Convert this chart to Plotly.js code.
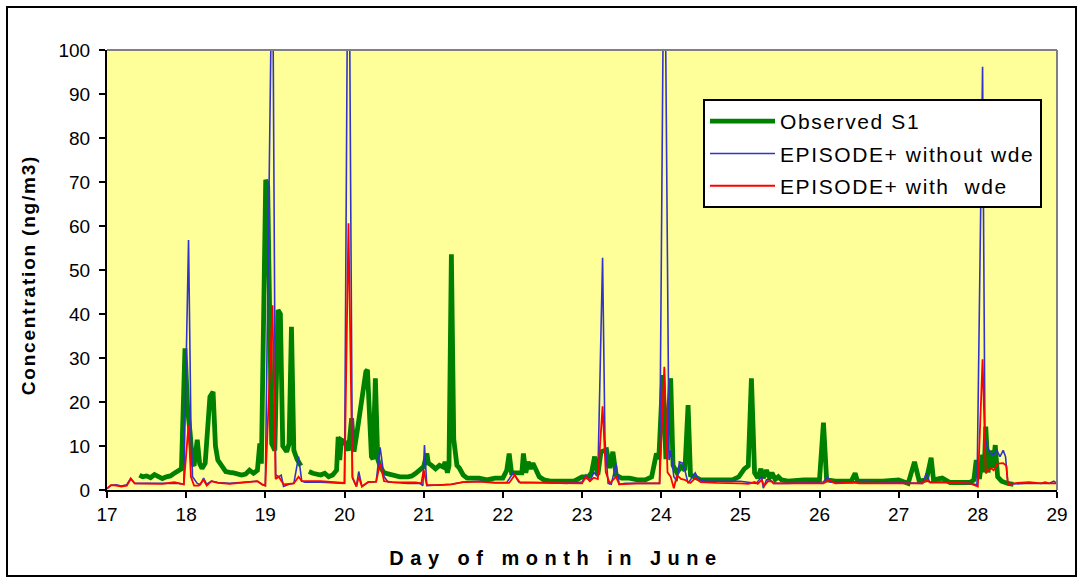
<!DOCTYPE html>
<html>
<head>
<meta charset="utf-8">
<script src="https://cdn.plot.ly/plotly-3.0.1.min.js"></script>
<style>
  html, body { margin: 0; padding: 0; background: #ffffff; }
  #chart { width: 1082px; height: 577px; }
  .g-xtitle text { letter-spacing: 6.5px; }
  .g-xtitle { transform: translate(-26px, 0px); }
  .g-ytitle text { letter-spacing: 1.8px; }
  .g-ytitle { transform: translate(0px, 5px); }
  .legendtext { letter-spacing: 1.6px; }
</style>
</head>
<body>
<div id="chart"></div>
<script>
// Day of month (June) and concentration (ng/m3) at the turning points of each series

// Observed S1 (null marks the gap in the record)
const obsDay = [17.41,17.45,17.5,17.55,17.6,17.65,17.7,17.75,17.8,17.85,17.9,17.94,17.985,18.02,18.05,18.08,18.1,18.14,18.17,18.2,18.24,18.3,18.34,18.37,18.4,18.45,18.5,18.55,18.6,18.7,18.75,18.8,18.85,18.9,18.93,18.95,18.98,19.005,19.03,19.06,19.08,19.12,19.16,19.19,19.22,19.27,19.3,19.33,19.36,19.4,19.45,19.5,
  19.55,19.6,19.7,19.75,19.8,19.85,19.9,19.92,19.94,19.96,20.0,20.05,20.09,20.12,20.16,20.22,20.24,20.27,20.29,20.34,20.36,20.39,20.42,20.45,20.5,20.6,20.7,20.8,20.85,20.9,20.95,21.0,21.04,21.06,21.1,21.15,21.2,21.25,21.27,21.3,21.32,21.35,21.38,21.42,21.45,21.5,21.55,21.7,21.8,21.9,22.0,22.05,22.08,22.11,22.2,22.24,22.26,22.29,22.32,22.35,22.38,22.42,22.46,22.52,22.6,22.8,22.9,23.0,23.08,23.12,23.16,23.2,23.24,23.31,23.35,23.39,23.43,23.5,23.6,23.7,23.8,23.88,23.94,23.97,24.02,24.06,24.12,24.15,24.2,24.25,24.3,24.34,24.37,24.42,24.5,24.7,24.9,24.98,25.05,25.1,25.14,25.18,25.22,25.26,25.29,25.33,25.37,25.4,25.44,25.48,25.52,25.6,25.8,26.0,26.05,26.09,26.2,26.4,26.45,26.48,26.6,26.8,27.0,27.12,27.2,27.26,27.35,27.41,27.44,27.55,27.65,27.8,27.9,27.95,27.98,28.02,28.06,28.08,28.1,28.13,28.16,28.19,28.22,28.25,28.3,28.38,28.45];
const obsConc = [3.4,3.0,3.2,2.8,3.5,2.9,2.6,3.0,3.2,3.8,4.5,4.8,32.2,18,13,6,5.5,11.4,6,4.9,6.1,21.2,22.3,10,6.8,5.5,4.2,4.0,3.9,3.4,3.6,4.5,3.8,4.5,10.6,6,49,70.5,69,30,10.6,9,40.9,40,10,8.7,10.5,37.1,9,7,5.5,null,
  4.2,3.8,3.4,3.8,3.0,3.4,4.5,12.1,6.8,11.4,11,9,16.3,8.7,13.3,21.2,22,26.9,27.3,7.6,7,25.4,7,5.3,3.9,3.4,3.0,3.0,3.2,3.8,4.5,5.3,8.3,6.1,5.6,4.8,5.6,5.2,6.4,3.9,5.5,53.6,11.5,5.6,5.0,3.4,2.7,2.7,2.3,2.7,2.7,4.5,8.3,3.9,3.9,3.9,8.3,3.9,6.4,4.8,6.1,4.8,3.0,2.3,2.0,2.0,2.0,3.0,3.0,3.9,7.6,3.4,8.7,9.1,5.0,8.7,3.4,2.7,2.7,2.3,2.3,3.0,8.3,7,26.1,7,25.4,5.6,3.9,5.3,4.5,19.3,3.4,3.0,2.3,2.3,2.3,3.0,4.8,5.5,25.4,3.9,2.7,4.8,2.7,4.5,2.7,3.9,2.4,3.0,2.3,2.0,2.3,2.3,15.3,2.3,2.0,2.0,3.8,2.0,2.0,2.0,2.3,1.5,6.4,2.0,2.3,7.3,2.3,2.7,1.7,1.7,1.7,2.3,6.8,2.5,8,4,14.4,4,9,5,10.2,3,2,1.5,1.3];

// EPISODE+ without wet deposition
const noWdeDay = [17.0,17.05,17.12,17.18,17.25,17.3,17.35,17.5,17.7,17.9,17.97,18.03,18.06,18.08,18.14,18.18,18.22,18.26,18.32,18.4,18.55,18.7,18.9,18.96,19.0,19.09,19.13,19.17,19.2,19.23,19.3,19.36,19.42,19.46,19.5,19.7,19.9,20.0,20.05,20.1,20.15,20.18,20.22,20.3,20.4,20.45,20.5,20.55,20.8,20.95,20.99,21.01,21.04,21.2,21.35,21.5,21.7,21.9,22.05,22.13,22.2,22.5,22.8,23.0,23.05,23.1,23.15,23.2,23.26,23.29,23.33,23.37,23.43,23.47,23.55,23.7,23.9,23.98,24.04,24.1,24.12,24.16,24.2,24.23,24.27,24.3,24.34,24.43,24.47,24.55,24.8,25.0,25.2,25.27,25.29,25.33,25.38,25.42,25.6,25.9,26.05,26.1,26.14,26.35,26.6,26.9,27.2,27.3,27.35,27.39,27.6,27.9,27.99,28.06,28.09,28.11,28.16,28.2,28.24,28.28,28.32,28.35,28.38,28.6,28.9,28.96,29.0];
const noWdeConc = [0.3,1.1,1.2,0.9,1.2,2.7,1.5,1.5,1.5,1.5,1.3,56.8,14.4,3,1.5,1.2,2.7,1.3,2.0,1.7,1.5,1.7,2.0,1.2,1.0,130,3.4,3.0,3.4,0.8,1.3,1.5,7.6,2.0,1.8,1.8,1.7,1.5,150,2.7,0.8,4.2,0.8,1.8,1.9,9.7,3.0,1.8,1.5,1.5,1.0,10.2,1.0,1.1,1.3,1.8,2.0,1.7,1.7,3.9,1.8,1.7,1.5,1.8,3.4,2.0,4.0,3,52.8,11.4,1.5,1.3,6.0,1.3,1.5,1.5,1.5,1.5,140,6.8,9,3.0,2,6.4,6.1,4.5,1.5,3.9,2.5,2.0,2.0,2.0,1.5,3.0,0.4,2.3,2.3,1.5,1.5,1.8,1.8,3.0,1.8,1.8,2.0,1.7,1.5,1.5,3.8,1.8,1.8,1.5,1.2,96.2,12,10.2,8.3,8.0,9.0,7.6,9.0,7.6,1.3,1.5,1.5,2.0,1.5];

// EPISODE+ with wet deposition
const wdeDay = [17.0,17.05,17.12,17.18,17.25,17.3,17.35,17.5,17.7,17.85,17.97,18.03,18.06,18.1,18.16,18.22,18.26,18.32,18.4,18.55,18.7,18.9,18.96,19.0,19.09,19.13,19.17,19.2,19.23,19.3,19.36,19.42,19.46,19.7,19.9,20.0,20.05,20.1,20.15,20.18,20.22,20.3,20.4,20.45,20.5,20.6,20.9,20.97,21.0,21.04,21.2,21.35,21.5,21.7,21.9,22.08,22.15,22.22,22.5,22.8,23.0,23.05,23.1,23.15,23.2,23.26,23.3,23.35,23.43,23.47,23.7,23.98,24.04,24.08,24.12,24.16,24.2,24.25,24.3,24.37,24.43,24.5,24.7,25.0,25.1,25.18,25.22,25.27,25.3,25.35,25.4,25.42,25.6,25.9,26.05,26.12,26.2,26.45,26.5,27.0,27.3,27.35,27.4,27.6,27.9,28.0,28.06,28.1,28.16,28.2,28.25,28.32,28.36,28.38,28.5,28.65,28.8,28.85,28.9,29.0];
const wdeConc = [0.3,1.1,1.0,0.8,1.0,2.5,1.5,1.4,1.4,1.8,1.3,14.8,3,1.0,1.0,2.3,1.0,2.0,1.6,1.4,1.7,2.0,1.3,1.0,42,2.5,3.0,2.0,1.3,1.4,1.5,3.0,2.0,2.0,1.8,1.6,60.6,3.0,0.8,3.0,0.8,1.8,1.9,6.1,2.0,1.8,1.7,1.5,4.5,1.1,1.1,1.3,1.8,1.9,1.6,1.6,3.4,1.6,1.6,1.6,1.5,3.0,2.0,2.8,2.5,19,4.1,1.5,3.0,1.3,1.5,1.5,28,4.0,3.0,0.4,3.4,2.5,2.3,1.6,2.7,1.8,1.6,1.5,1.4,1.8,1.4,2.3,0.9,2.0,1.9,1.5,1.5,1.6,1.5,2.3,1.5,1.7,1.5,1.5,1.5,2.3,1.7,1.7,1.5,0.8,29.7,3.8,5.0,4.5,6.0,6.1,5.5,1.3,1.6,1.8,1.5,1.8,1.5,1.5];

const dayTicks = [17,18,19,20,21,22,23,24,25,26,27,28,29];
const concTicks = [0,10,20,30,40,50,60,70,80,90,100];

const seriesNames = ['Observed S1', 'EPISODE+ without wde', 'EPISODE+ with  wde'];

const traces = [
  { x: obsDay, y: obsConc, name: seriesNames[0], legendgroup: 'a',
    mode: 'lines', line: { color: '#008000', width: 4.8 }, connectgaps: false },
  { x: noWdeDay, y: noWdeConc, name: seriesNames[1], legendgroup: 'b',
    mode: 'lines', line: { color: '#3333CC', width: 1.6 } },
  { x: wdeDay, y: wdeConc, name: seriesNames[2], legendgroup: 'c',
    mode: 'lines', line: { color: '#FF0000', width: 1.8 } }
];

const L = 107, R = 1057, T = 50, B = 490, W = 1082, H = 577;
const px = v => (v - L) / (R - L);
const py = v => (B - v) / (B - T);

const layout = {
  width: W, height: H,
  margin: { l: L, r: W - R, t: T, b: H - B, pad: 0 },
  paper_bgcolor: '#ffffff',
  plot_bgcolor: '#FFFF99',
  font: { family: 'Liberation Sans, Arial, sans-serif', color: '#000000' },
  showlegend: true,
  legend: {
    x: px(703), y: py(99), xanchor: 'left', yanchor: 'top',
    bgcolor: '#ffffff', bordercolor: '#000000', borderwidth: 2,
    font: { size: 21, family: 'Liberation Sans, Arial, sans-serif' },
    traceorder: 'grouped', tracegroupgap: 2, itemwidth: 65
  },
  xaxis: {
    range: [17, 29], tickmode: 'array', tickvals: dayTicks, ticktext: dayTicks.map(String),
    ticks: 'outside', ticklen: 6, tickwidth: 2, tickcolor: '#000000',
    showline: true, linecolor: '#000000', linewidth: 2,
    showgrid: false, zeroline: false,
    tickfont: { size: 19 }, ticklabelstandoff: 0,
    title: { text: '<b>Day of month in June</b>', font: { size: 20 }, standoff: 27 }
  },
  yaxis: {
    range: [0, 100], tickmode: 'array', tickvals: concTicks, ticktext: concTicks.map(String),
    ticks: 'outside', ticklen: 6, tickwidth: 2, tickcolor: '#000000',
    showline: true, linecolor: '#000000', linewidth: 2,
    showgrid: false, zeroline: false,
    tickfont: { size: 19 }, ticklabelstandoff: 5,
    title: { text: '<b>Concentration (ng/m3)</b>', font: { size: 19 }, standoff: 18 }
  },
  shapes: [
    // grey frame on the top and right of the plotting area
    { type: 'line', xref: 'paper', yref: 'paper', x0: 0, x1: 1, y0: 1, y1: 1,
      line: { color: '#808080', width: 2 } },
    { type: 'line', xref: 'paper', yref: 'paper', x0: 1, x1: 1, y0: 0, y1: 1,
      line: { color: '#808080', width: 2 } },
    // outer chart border
    { type: 'rect', xref: 'paper', yref: 'paper',
      x0: px(7), x1: px(1076), y0: py(576), y1: py(7),
      line: { color: '#000000', width: 2 } }
  ]
};

Plotly.newPlot('chart', traces, layout, { displayModeBar: false, staticPlot: true });
</script>
</body>
</html>
